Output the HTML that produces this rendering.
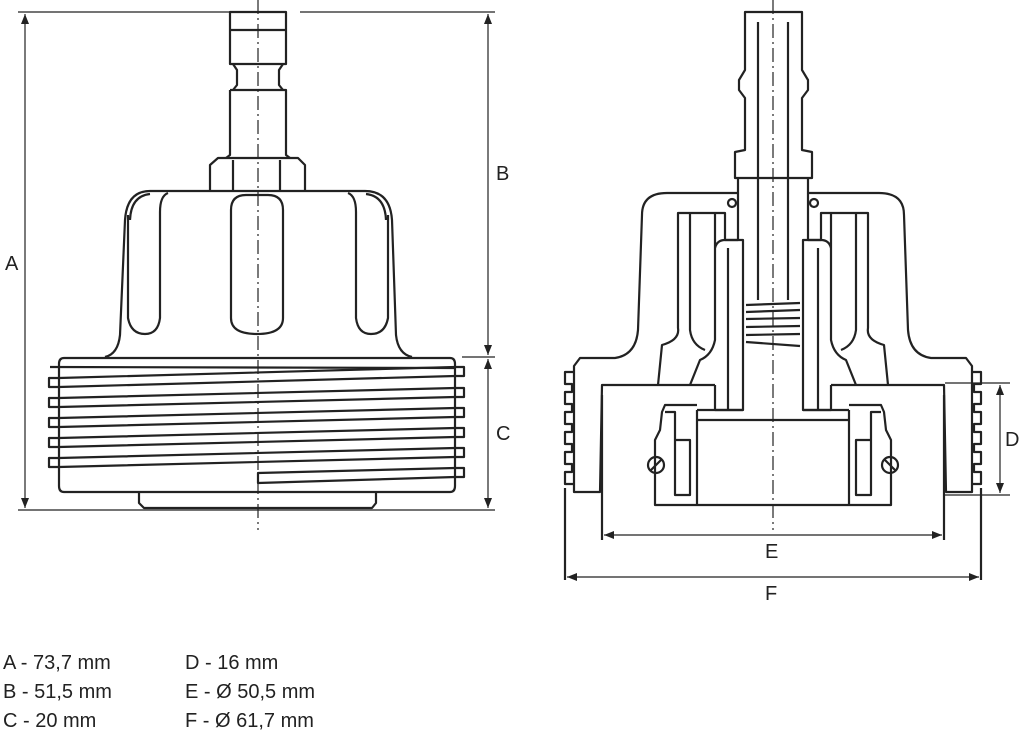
<!DOCTYPE html>
<html><head><meta charset="utf-8"><style>
body{margin:0;background:#fff;width:1024px;height:735px;overflow:hidden}
svg{display:block}
text{font-family:"Liberation Sans",sans-serif;fill:#222}
</style></head><body>
<svg width="1024" height="735" viewBox="0 0 1024 735" xmlns="http://www.w3.org/2000/svg">
<defs>
<marker id="ar" markerWidth="10" markerHeight="8" refX="10" refY="4" orient="auto-start-reverse" markerUnits="userSpaceOnUse"><path d="M0,0 L10,4 L0,8 z" fill="#222"/></marker>
</defs>
<g fill="none" stroke="#222" stroke-width="2.2" stroke-linejoin="round">
<!-- LEFT VIEW -->
<rect x="230" y="12" width="56" height="52"/>
<line x1="230" y1="30" x2="286" y2="30"/>
<path d="M233,64 L237,70 L237,85 L233,90 M283,64 L279,70 L279,85 L283,90"/>
<path d="M230,90 L286,90 L286,155 L290,158 M230,90 L230,155 L226,158"/>
<path d="M210,190 L210,165 L218,158 L298,158 L305,165 L305,190"/>
<line x1="233" y1="160" x2="233" y2="190"/><line x1="280" y1="160" x2="280" y2="190"/>
<!-- cap -->
<path d="M105,357 Q118,354 120,335 L125,220 Q127,191 150,191 L365,191 Q390,191 392,220 L396,335 Q398,354 412,357"/>
<path d="M130,220 Q131,196 150,194"/>
<path d="M386,220 Q385,196 366,194"/>
<path d="M168,193 Q160,196 160,212 L160,318 Q158,334 145,334 Q131,334 128,318 L128,215"/>
<path d="M348,193 Q356,196 356,212 L356,318 Q358,334 371,334 Q385,334 388,318 L388,215"/>
<path d="M231,318 L231,210 Q231,195 246,195 L268,195 Q283,195 283,210 L283,318 Q283,334 257,334 Q231,334 231,318 Z"/>
<!-- thread body -->
<path d="M64,358 L450,358 Q455,358 455,364 L455,486 Q455,492 450,492 L64,492 Q59,492 59,486 L59,364 Q59,358 64,358 Z"/>
<path d="M50,367 L455,368"/>
<path d="M59,378 L455,367 M59,387 L455,376 M59,398 L455,388 M59,407 L455,397 M59,418 L455,408 M59,427 L455,417 M59,438 L455,428 M59,447 L455,437 M59,458 L455,448 M59,467 L455,457"/>
<path d="M455,468 L258,473 L258,483 L455,477"/>
<path d="M59,378 L49,378 L49,387 L59,387 M59,398 L49,398 L49,407 L59,407 M59,418 L49,418 L49,427 L59,427 M59,438 L49,438 L49,447 L59,447 M59,458 L49,458 L49,467 L59,467"/>
<path d="M455,367 L464,367 L464,376 L455,376 M455,388 L464,388 L464,397 L455,397 M455,408 L464,408 L464,417 L455,417 M455,428 L464,428 L464,437 L455,437 M455,448 L464,448 L464,457 L455,457 M455,468 L464,468 L464,477 L455,477"/>
<path d="M139,492 L139,503 L144,508 L372,508 L376,503 L376,492"/>
<!-- RIGHT VIEW -->
<path d="M745,12 L802,12 L802,70 L808,80 L808,90 L802,98 L802,150 L812,152 L812,178 L735,178 L735,152 L745,150 L745,98 L739,90 L739,80 L745,70 Z"/>
<path d="M758,22 L758,300 M788,22 L788,300"/>
<path d="M746,305 L800,303 M746,312 L800,310 M746,319 L800,318 M746,327 L800,326 M746,335 L800,334 M746,342 L800,346"/>
<g id="half">
<path d="M738,178 L738,193 L667,193 Q642,193 642,215 L638,330 Q636,355 615,358 L580,358 L574,366 L574,492 L600,492 L602,385 L715,385"/>
<path d="M574,372 L565,372 L565,384 L572,384 L572,392 L565,392 L565,404 L572,404 L572,412 L565,412 L565,424 L572,424 L572,432 L565,432 L565,444 L572,444 L572,452 L565,452 L565,464 L572,464 L572,472 L565,472 L565,484 L574,484"/>
<path d="M738,193 L738,240 L725,240 L725,213 L678,213 L678,328 Q680,340 662,345 L658,385"/>
<path d="M715,213 L715,340 Q712,355 700,360 L690,385"/>
<path d="M690,213 L690,330 Q692,345 705,350"/>
<path d="M715,248 Q717,240 725,240 L743,240 L743,410 L715,410 L715,385"/>
<path d="M728,248 L728,410"/>
<path d="M697,410 L743,410 M697,410 L697,505"/>
<path d="M697,405 L665,405 L662,412 L660,430 L655,440 L655,505 L773,505"/>
<path d="M665,412 L675,412 L675,440 M675,440 L690,440 L690,495 L675,495 L675,440"/>
<circle cx="732" cy="203" r="4"/>
<circle cx="656" cy="465" r="8"/>
<line x1="651" y1="470" x2="661" y2="460"/>
<line x1="602" y1="395" x2="602" y2="540"/>
<line x1="565" y1="488" x2="565" y2="580"/>
</g>
<use href="#half" transform="translate(1546,0) scale(-1,1)"/>
<line x1="697" y1="420" x2="849" y2="420"/>
</g>
<g stroke="#222" stroke-width="1.2" fill="none">
<line x1="18" y1="12" x2="240" y2="12"/>
<line x1="300" y1="12" x2="495" y2="12"/>
<line x1="18" y1="510" x2="495" y2="510"/>
<line x1="462" y1="357" x2="495" y2="357"/>
<line x1="25" y1="14" x2="25" y2="508" marker-start="url(#ar)" marker-end="url(#ar)"/>
<line x1="488" y1="14" x2="488" y2="355" marker-start="url(#ar)" marker-end="url(#ar)"/>
<line x1="488" y1="359" x2="488" y2="508" marker-start="url(#ar)" marker-end="url(#ar)"/>
<line x1="945" y1="383" x2="1010" y2="383"/>
<line x1="945" y1="495" x2="1010" y2="495"/>
<line x1="1000" y1="385" x2="1000" y2="493" marker-start="url(#ar)" marker-end="url(#ar)"/>
<line x1="604" y1="535" x2="942" y2="535" marker-start="url(#ar)" marker-end="url(#ar)"/>
<line x1="567" y1="577" x2="979" y2="577" marker-start="url(#ar)" marker-end="url(#ar)"/>
<line x1="258" y1="0" x2="258" y2="530" stroke-dasharray="14,4,2,4"/>
<line x1="773" y1="0" x2="773" y2="530" stroke-dasharray="14,4,2,4"/>
</g>
<g font-size="20">
<text x="5" y="270">A</text>
<text x="496" y="180">B</text>
<text x="496" y="440">C</text>
<text x="1005" y="446">D</text>
<text x="765" y="558">E</text>
<text x="765" y="600">F</text>
<text x="3" y="669">A - 73,7 mm</text>
<text x="3" y="698">B - 51,5 mm</text>
<text x="3" y="727">C - 20 mm</text>
<text x="185" y="669">D - 16 mm</text>
<text x="185" y="698">E - Ø 50,5 mm</text>
<text x="185" y="727">F - Ø 61,7 mm</text>
</g>
</svg>
</body></html>
